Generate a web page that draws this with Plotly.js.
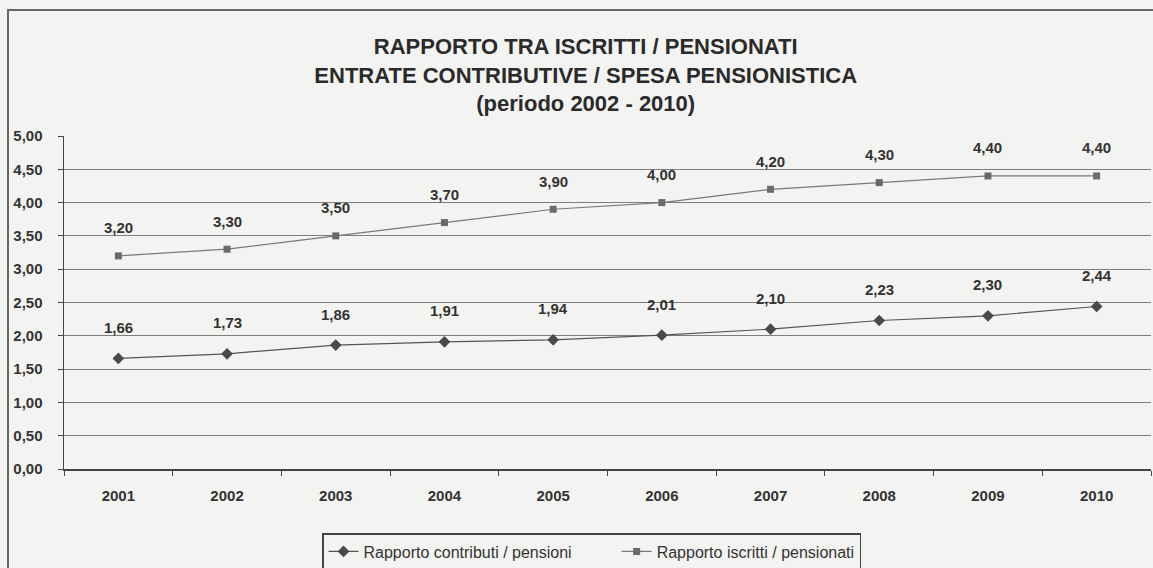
<!DOCTYPE html>
<html>
<head>
<meta charset="utf-8">
<script src="https://cdn.plot.ly/plotly-3.0.1.min.js"></script>
<style>
  html, body { margin: 0; padding: 0; background: #f3f3f1; overflow: hidden; }
  #frame { position: absolute; left: 7px; top: 9px; width: 1200px; height: 700px;
           border: 2px solid #666; box-sizing: border-box; }
  #chart { position: absolute; left: 0; top: 0; width: 1153px; height: 568px; }
</style>
</head>
<body>
<div id="frame"></div>
<div id="chart"></div>
<script>
// anni
let anni = ['2001', '2002', '2003', '2004', '2005', '2006', '2007', '2008', '2009', '2010'];
// rapporto contributi / pensioni
let contributi = [1.66, 1.73, 1.86, 1.91, 1.94, 2.01, 2.10, 2.23, 2.30, 2.44];
// rapporto iscritti / pensionati
let iscritti = [3.20, 3.30, 3.50, 3.70, 3.90, 4.00, 4.20, 4.30, 4.40, 4.40];
let yTicks = [0, 0.5, 1, 1.5, 2, 2.5, 3, 3.5, 4, 4.5, 5];

let font = 'Liberation Sans, Arial, sans-serif';
let spazio = '\u00a0'.repeat(9); // distanza tra le voci della legenda

let traces = [
    {
        name: 'Rapporto contributi / pensioni' + spazio,
        type: 'scatter',
        mode: 'lines+markers',
        x: anni,
        y: contributi,
        line: { color: '#555', width: 1.2 },
        marker: { symbol: 'diamond', size: 9, color: '#4a4a4a' }
    },
    {
        name: 'Rapporto iscritti / pensionati',
        type: 'scatter',
        mode: 'lines+markers',
        x: anni,
        y: iscritti,
        line: { color: '#7a7a7a', width: 1.2 },
        marker: { symbol: 'square', size: 7, color: '#6a6a6a' }
    }
];

// etichette dei valori (x = indice della categoria)
let annotations = [];
[contributi, iscritti].forEach(function (serie, s) {
    serie.forEach(function (v, i) {
        annotations.push({
            x: i, y: v, xref: 'x', yref: 'y',
            text: v.toFixed(2).replace('.', ','),
            showarrow: false, yshift: s === 0 ? 31 : 28,
            font: { family: font, size: 15, color: '#333', weight: 'bold' }
        });
    });
});

let layout = {
    width: 1153,
    height: 568,
    margin: { l: 64, r: 2, t: 136, b: 99 },
    paper_bgcolor: 'rgba(0,0,0,0)',
    plot_bgcolor: 'rgba(0,0,0,0)',
    separators: ',.',
    showlegend: true,
    title: {
        text: 'RAPPORTO TRA ISCRITTI / PENSIONATI<br>ENTRATE CONTRIBUTIVE / SPESA PENSIONISTICA<br>(periodo 2002 - 2010)',
        x: 0.508, xanchor: 'center',
        yref: 'container', y: 1 - 54 / 568, yanchor: 'middle',
        font: { family: font, size: 22, color: '#2a2a2a', weight: 'bold' }
    },
    xaxis: {
        type: 'category',
        range: [-0.5, 9.5],
        tickson: 'boundaries',
        ticks: 'outside',
        ticklen: 5,
        tickcolor: '#444',
        showline: true,
        linecolor: '#444',
        linewidth: 1.5,
        showgrid: false,
        tickangle: 0,
        ticklabelstandoff: 12,
        tickfont: { family: font, size: 15, color: '#333', weight: 'bold' },
        fixedrange: true
    },
    yaxis: {
        range: [0, 5],
        tickvals: yTicks,
        tickformat: '.2f',
        ticks: 'outside',
        ticklen: 5,
        tickcolor: '#444',
        showline: true,
        linecolor: '#444',
        linewidth: 1.5,
        gridcolor: '#7d7d7d',
        gridwidth: 1,
        zeroline: false,
        ticklabelstandoff: 12,
        tickfont: { family: font, size: 15, color: '#333', weight: 'bold' },
        fixedrange: true
    },
    legend: {
        orientation: 'h',
        xref: 'container', yref: 'container',
        x: 322 / 1153, xanchor: 'left',
        y: 1 - 533 / 568, yanchor: 'top',
        bgcolor: 'rgba(0,0,0,0)',
        bordercolor: '#444',
        borderwidth: 1.5,
        font: { family: font, size: 16, color: '#333' }
    },
    annotations: annotations
};

Plotly.newPlot('chart', traces, layout, { displayModeBar: false, staticPlot: true });
</script>
</body>
</html>
